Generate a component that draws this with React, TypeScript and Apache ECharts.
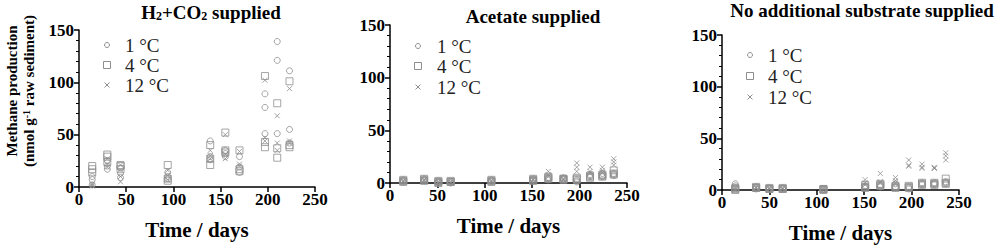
import React, { useEffect, useRef } from "react";
import * as echarts from "echarts";

// ---- data ----
const DAYS_H2 = [14, 30, 44, 94, 139, 155, 170, 197, 210, 223];
const H2_1C = [[10, 7, 2], [25, 20, 17], [18, 13, 9], [14, 10, 8], [44, 29, 26], [35, 32, 29], [29, 19, 14], [89, 76, 51], [139, 121, 51], [111, 55, 42]];
const H2_4C = [[20, 17, 14], [31, 29, 24], [21, 17, 20], [21, 8, 6], [40, 27, 21], [52, 35, 33], [35, 17, 15], [106, 43, 38], [80, 37, 28], [101, 40, 38]];
const H2_12C = [[3, 1, 2], [27, 22, 19], [21, 10, 5], [16, 11, 7], [35, 30, 27], [50, 31, 27], [34, 22, 20], [102, 47, 44], [68, 42, 35], [94, 44, 42]];

const DAYS_AC = [14, 36, 51, 64, 107, 151, 167, 183, 197, 211, 224, 236];
const AC_1C = [[2, 1, 3], [3, 2, 4], [1, 0, 2], [1, 0, 1], [2, 1, 3], [3, 2, 4], [5, 4, 3], [4, 3, 5], [1, 2, 3], [8, 7, 6], [9, 7, 6], [9, 8, 7]];
const AC_4C = [[2, 3, 1], [3, 4, 2], [1, 2, 0], [1, 2, 1], [2, 3, 1], [3, 4, 2], [4, 5, 6], [4, 3, 4], [5, 3, 4], [6, 7, 5], [7, 6, 8], [12, 8, 9]];
const AC_12C = [[2, 1, 2], [3, 2, 3], [1, 0, 1], [1, 1, 0], [2, 2, 1], [4, 3, 3], [11, 8, 6], [4, 3, 3], [19, 15, 11], [15, 11, 9], [15, 12, 10], [23, 20, 17]];

const DAYS_NO = [14, 36, 50, 64, 107, 151, 167, 183, 197, 211, 224, 236];
const NO_1C = [[6, 4, 2], [2, 3, 1], [2, 1, 1], [1, 2, 1], [1, 0, 1], [4, 3, 2], [5, 4, 3], [6, 3, 2], [2, 3, 1], [6, 5, 7], [7, 6, 5], [8, 6, 7]];
const NO_4C = [[1, 2, 0], [2, 3, 2], [1, 2, 1], [2, 1, 1], [1, 1, 0], [5, 3, 2], [5, 6, 4], [3, 2, 4], [3, 2, 4], [6, 7, 5], [6, 7, 5], [11, 7, 6]];
const NO_12C = [[1, 0, 2], [2, 2, 3], [1, 2, 1], [1, 1, 2], [1, 0, 2], [10, 7, 5], [16, 8, 7], [12, 9, 7], [29, 23, 24], [25, 22, 21], [22, 21, 21], [36, 33, 29]];

const SERIES_NAMES = ["1 °C", "4 °C", "12 °C"];
const X_TICKS = [0, 50, 100, 150, 200, 250];
const Y_TICKS = [0, 50, 100, 150];

const SERIF = "Liberation Serif";
const GRAY = "#8f8f8f";
const CROSS = "path://M0,0L10,10M0,10L10,0";

const PANELS = [
  { days: DAYS_H2, sets: [H2_1C, H2_4C, H2_12C], grid: { left: 79, top: 30, width: 236, height: 157 } },
  { days: DAYS_AC, sets: [AC_1C, AC_4C, AC_12C], grid: { left: 390, top: 25, width: 237, height: 158 } },
  { days: DAYS_NO, sets: [NO_1C, NO_4C, NO_12C], grid: { left: 722, top: 35, width: 237, height: 158 } },
];

const SYMBOLS = [
  { symbol: "circle", size: 6 },
  { symbol: "rect", size: 7 },
  { symbol: CROSS, size: 5 },
];

function toPoints(days: number[], reps: number[][]) {
  const pts: number[][] = [];
  days.forEach((d, i) => reps[i].forEach((v) => pts.push([d, v])));
  return pts;
}

function legendGraphics(x: number, tx: number, ys: number[]) {
  const s = { stroke: GRAY, fill: "none", lineWidth: 1 };
  const t = (y: number, txt: string) => ({
    type: "text",
    x: tx,
    y: y,
    style: { text: txt, fontFamily: SERIF, fontSize: 19, lineHeight: 19, fill: "#222", verticalAlign: "middle", align: "left" },
  });
  return [
    { type: "circle", shape: { cx: x, cy: ys[0], r: 2.5 }, style: s },
    t(ys[0], SERIES_NAMES[0]),
    { type: "rect", shape: { x: x - 3.5, y: ys[1] - 3.5, width: 7, height: 7 }, style: s },
    t(ys[1], SERIES_NAMES[1]),
    { type: "line", shape: { x1: x - 2.5, y1: ys[2] - 2.5, x2: x + 2.5, y2: ys[2] + 2.5 }, style: { stroke: GRAY, lineWidth: 1 } },
    { type: "line", shape: { x1: x - 2.5, y1: ys[2] + 2.5, x2: x + 2.5, y2: ys[2] - 2.5 }, style: { stroke: GRAY, lineWidth: 1 } },
    t(ys[2], SERIES_NAMES[2]),
  ];
}

export default function App() {
  const ref = useRef<HTMLDivElement>(null);
  useEffect(() => {
    if (!ref.current) return;
    const chart = echarts.init(ref.current, undefined, { renderer: "svg" });
    const tickFont = { fontFamily: SERIF, fontWeight: "bold", fontSize: 17, color: "#000" };
    const axisLabel = { ...tickFont, formatter: "{t|{value}}", rich: { t: { ...tickFont } } };
    const line = { show: true, lineStyle: { color: "#000", width: 1.5 } };
    const grids = PANELS.map((p) => ({ ...p.grid, containLabel: false }));
    const xAxis = PANELS.map((_, i) => ({
      type: "value",
      gridIndex: i,
      min: X_TICKS[0],
      max: X_TICKS[X_TICKS.length - 1],
      interval: 50,
      axisLine: line,
      axisTick: { show: true, length: 5, lineStyle: { color: "#000", width: 1.5 } },
      splitLine: { show: false },
      axisLabel: { ...axisLabel, margin: 4 },
      name: "Time / days",
      nameLocation: "middle",
      nameGap: 32,
      nameTextStyle: { fontFamily: SERIF, fontWeight: "bold", fontSize: 21, color: "#000" },
    }));
    const yAxis = PANELS.map((_, i) => ({
      type: "value",
      gridIndex: i,
      min: Y_TICKS[0],
      max: Y_TICKS[Y_TICKS.length - 1],
      interval: 50,
      axisLine: line,
      axisTick: { show: true, length: 5, lineStyle: { color: "#000", width: 1.5 } },
      minorTick: { show: true, splitNumber: 5, length: 3, lineStyle: { color: "#000", width: 1 } },
      splitLine: { show: false },
      axisLabel: { ...axisLabel, margin: 5 },
    }));
    const series: any[] = [];
    PANELS.forEach((p, i) => {
      p.sets.forEach((reps, k) => {
        series.push({
          type: "scatter",
          name: SERIES_NAMES[k],
          xAxisIndex: i,
          yAxisIndex: i,
          symbol: SYMBOLS[k].symbol,
          symbolSize: SYMBOLS[k].size,
          itemStyle: { color: "rgba(0,0,0,0)", borderColor: GRAY, borderWidth: 1 },
          data: toPoints(p.days, reps),
          z: 3,
        });
      });
    });
    const titleFont = { fontFamily: SERIF, fontWeight: "bold", fontSize: 19, fill: "#000" };
    const graphic: any[] = [
      {
        type: "text",
        x: 211,
        y: 12,
        style: {
          text: "H{sub|2}+CO{sub|2} supplied",
          ...titleFont,
          align: "center",
          verticalAlign: "middle",
          rich: { sub: { fontFamily: SERIF, fontWeight: "bold", fontSize: 12, verticalAlign: "bottom", padding: [8, 0, 0, 0] } },
        },
      },
      { type: "text", x: 533, y: 16, style: { text: "Acetate supplied", ...titleFont, align: "center", verticalAlign: "middle" } },
      { type: "text", x: 862, y: 10, style: { text: "No additional substrate supplied", ...titleFont, align: "center", verticalAlign: "middle" } },
      {
        type: "text",
        x: 12,
        y: 91,
        rotation: Math.PI / 2,
        style: { text: "Methane production", fontFamily: SERIF, fontWeight: "bold", fontSize: 15, fill: "#000", align: "center", verticalAlign: "middle" },
      },
      {
        type: "text",
        x: 29,
        y: 91,
        rotation: Math.PI / 2,
        style: {
          text: "(nmol g{sup|-1} raw sediment)",
          fontFamily: SERIF,
          fontWeight: "bold",
          fontSize: 15,
          fill: "#000",
          align: "center",
          verticalAlign: "middle",
          rich: { sup: { fontFamily: SERIF, fontWeight: "bold", fontSize: 10, verticalAlign: "top", padding: [0, 0, 6, 0] } },
        },
      },
      ...legendGraphics(107, 125, [45, 65, 85]),
      ...legendGraphics(418, 437, [46, 66, 87]),
      ...legendGraphics(750, 768, [55, 76, 97]),
    ];
    chart.setOption({
      animation: false,
      textStyle: { fontFamily: SERIF },
      grid: grids,
      xAxis,
      yAxis,
      series,
      graphic,
    });
    return () => chart.dispose();
  }, []);
  return <div ref={ref} style={{ position: "fixed", left: 0, top: 0, width: 1000, height: 248, background: "#fff" }} />;
}
